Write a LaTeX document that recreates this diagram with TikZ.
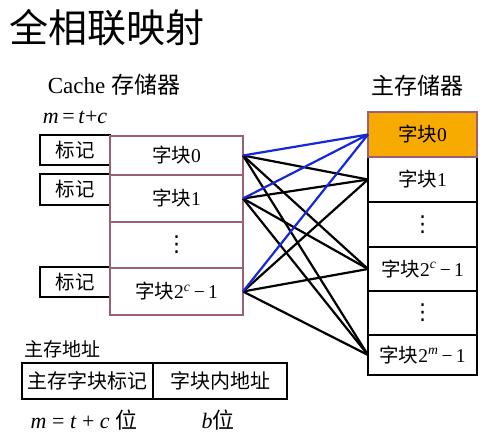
\documentclass[tikz,border=0pt]{standalone}
\usepackage{fontspec}
\setmainfont{Liberation Serif}
\newfontfamily\cjk{Noto Sans CJK SC}
\newfontfamily\dejavu{DejaVu Sans}
\definecolor{mauve}{RGB}{155,95,120}
\definecolor{blockorange}{RGB}{247,170,0}
\definecolor{linkblue}{RGB}{20,40,215}
\newcommand{\vdotsglyph}{{\dejavu\fontsize{22}{22}\selectfont ⋮}}
\begin{document}
\begin{tikzpicture}[x=1pt,y=1pt,
  cachebox/.style={draw=mauve,line width=1.8pt,minimum width=133pt,inner sep=0pt,outer sep=0pt,font=\fontsize{19.5}{19.5}\selectfont},
  tagbox/.style={draw=black,line width=2.4pt,minimum width=70pt,minimum height=30pt,inner sep=0pt,outer sep=0pt,font=\fontsize{19.5}{19.5}\selectfont},
  membox/.style={draw=black,line width=1.8pt,minimum width=109pt,inner sep=0pt,outer sep=0pt,font=\fontsize{19.5}{19.5}\selectfont},
  addrbox/.style={draw=black,line width=2.4pt,minimum height=36pt,inner sep=0pt,outer sep=0pt,font=\fontsize{20}{20}\selectfont},
  link/.style={line width=2.2pt,black},
  bluelink/.style={line width=2.2pt,linkblue},
  lbl/.style={inner sep=0pt}]
\useasboundingbox (0,0) rectangle (498,-441);
% title
\node[lbl,font=\fontsize{39}{39}\selectfont] (title) at (107,-28) {\cjk 全相联映射};
\node[lbl,font=\fontsize{23}{23}\selectfont] (cachelbl) at (114,-85) {Cache {\cjk 存储器}};
\node[lbl,font=\fontsize{22}{22}\selectfont] (mtc) at (75,-117) {\textit{m}\,=\,\textit{t}+\textit{c}};
\node[lbl,font=\fontsize{23}{23}\selectfont] (memlbl) at (417,-86) {\cjk 主存储器};
% tags
\node[tagbox] (t0) at (75,-150) {\cjk 标记};
\node[tagbox,minimum height=31pt] (t1) at (75,-189.5) {\cjk 标记};
\node[tagbox] (t3) at (75,-282) {\cjk 标记};
% cache
\node[cachebox,minimum height=39pt] (c0) at (176.5,-155.5) {{\cjk 字块}0};
\node[cachebox,minimum height=47pt] (c1) at (176.5,-198.5) {{\cjk 字块}1};
\node[cachebox,minimum height=46pt] (c2) at (176.5,-245) {\vdotsglyph};
\node[cachebox,minimum height=47pt] (c3) at (176.5,-291.5) {{\cjk 字块}2\textsuperscript{\textit{c}}\,−\,1};
% memory
\node[membox,minimum height=45pt] (m1) at (422.5,-179.5) {{\cjk 字块}1};
\node[membox,minimum height=45pt] (m2) at (422.5,-224.5) {\vdotsglyph};
\node[membox,minimum height=44pt] (m3) at (422.5,-269) {{\cjk 字块}2\textsuperscript{\textit{c}}\,−\,1};
\node[membox,minimum height=44pt] (m4) at (422.5,-313) {\vdotsglyph};
\node[membox,minimum height=40pt] (m5) at (422.5,-355) {{\cjk 字块}2\textsuperscript{\textit{m}}\,−\,1};
\node[membox,draw=mauve,fill=blockorange,minimum height=45pt] (m0) at (422.5,-134.5) {{\cjk 字块}0};
% links
\foreach \c in {c0,c1,c3}{
  \draw[link] (\c.east) -- (m1.west);
  \draw[link] (\c.east) -- (m3.west);
  \draw[link] (\c.east) -- (m5.west);
}
\foreach \c in {c0,c1,c3}{
  \draw[bluelink] (\c.east) -- (m0.west);
}
% address
\node[lbl,font=\fontsize{19}{19}\selectfont] (addrlbl) at (62,-349) {\cjk 主存地址};
\node[addrbox,minimum width=131pt] (a0) at (87.5,-381) {\cjk 主存字块标记};
\node[addrbox,minimum width=134pt] (a1) at (220,-381) {\cjk 字块内地址};
\node[lbl,font=\fontsize{22}{22}\selectfont] (abits) at (84,-420) {\textit{m} = \textit{t} + \textit{c} {\cjk 位}};
\node[lbl,font=\fontsize{22}{22}\selectfont] (bbits) at (218,-420) {\textit{b}{\cjk 位}};
\end{tikzpicture}
\end{document}
